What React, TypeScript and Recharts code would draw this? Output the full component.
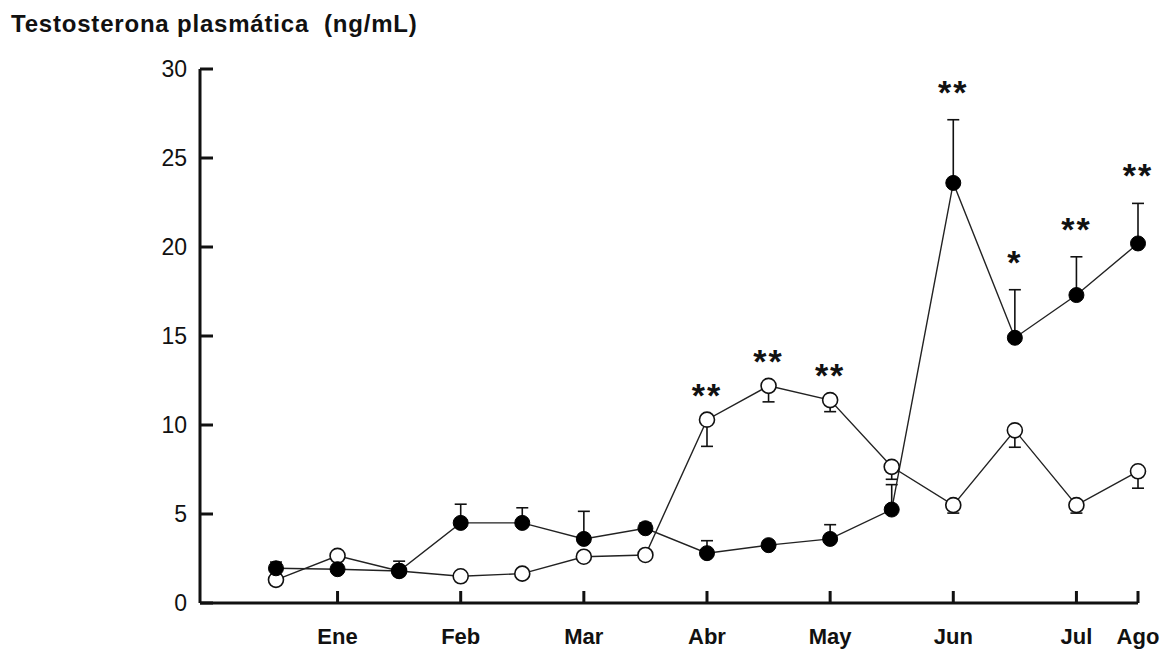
import React from 'react';
import { ComposedChart, Line, Scatter, XAxis, YAxis, ErrorBar } from 'recharts';

// muestreos quincenales (índice de muestreo)
const samplePoints = [0, 1, 2, 3, 4, 5, 6, 7, 8, 9, 10, 11, 12, 13, 14];
const monthLabels = ['Ene', 'Feb', 'Mar', 'Abr', 'May', 'Jun', 'Jul', 'Ago'];
const monthTicks = [1, 3, 5, 7, 9, 11, 13, 14];
const yTicks = [0, 5, 10, 15, 20, 25, 30];

// círculos negros
const filledMean = [1.95, 1.9, 1.8, 4.5, 4.5, 3.6, 4.2, 2.8, 3.25, 3.6, 5.25, 23.6, 14.9, 17.3, 20.2];
const filledSE = [0.35, 0, 0.55, 1.05, 0.85, 1.55, 0.3, 0.7, 0, 0.8, 1.4, 3.55, 2.7, 2.15, 2.25];
const filledSig = ['', '', '', '', '', '', '', '', '', '', '', '**', '*', '**', '**'];

// círculos blancos
const openMean = [1.3, 2.65, 1.8, 1.5, 1.65, 2.6, 2.7, 10.3, 12.2, 11.4, 7.65, 5.5, 9.7, 5.5, 7.4];
const openSE = [0, 0, 0, 0, 0, 0, 0, 1.5, 0.9, 0.65, 0.7, 0.45, 0.95, 0.45, 0.95];
const openSig = ['', '', '', '', '', '', '', '**', '**', '**', '', '', '', '', ''];

const data = samplePoints.map((x, i) => ({
    x,
    filled: filledMean[i],
    filledErr: [0, filledSE[i]],
    open: openMean[i],
    openErr: [openSE[i], 0],
}));

const filledStars = samplePoints
    .filter((_, i) => filledSig[i])
    .map((x) => ({ x, top: filledMean[x] + filledSE[x], sig: filledSig[x] }));
const openStars = samplePoints
    .filter((_, i) => openSig[i])
    .map((x) => ({ x, top: openMean[x], sig: openSig[x] }));

const FONT = '"Liberation Sans", Arial, Helvetica, sans-serif';
const INK = '#111';

const YTick = ({ x, y, payload }: any) => (
    <g>
        <line x1={x + 13} x2={x + 26} y1={y} y2={y} stroke={INK} strokeWidth={3} />
        <text x={x} y={y} dy={8} textAnchor="end" fontSize={23} fill={INK} fontFamily={FONT}>
            {payload.value}
        </text>
    </g>
);

const XTick = ({ x, y, payload }: any) => {
    const i = monthTicks.indexOf(payload.value);
    return (
        <g>
            <line x1={x} x2={x} y1={y - 24} y2={y - 36} stroke={INK} strokeWidth={3} />
            <text x={x} y={y} dy={17} textAnchor="middle" fontSize={22} fontWeight="bold" fill={INK} fontFamily={FONT}>
                {monthLabels[i]}
            </text>
        </g>
    );
};

const starShape = (lift: number) => (props: any) => (
    <text
        x={props.cx}
        y={props.cy - lift}
        textAnchor="middle"
        fontSize={34}
        fontWeight="bold"
        letterSpacing={2}
        fill={INK}
        fontFamily={FONT}
    >
        {props.payload.sig}
    </text>
);

export default function App() {
    return (
        <div style={{ position: 'absolute', left: 0, top: 0, width: 1172, height: 653, background: '#fff' }}>
            <svg width={1172} height={60} style={{ position: 'absolute', left: 0, top: 0 }}>
                <text x={11} y={32} fontSize={24} fontWeight="bold" fill={INK} fontFamily={FONT} letterSpacing={0.8}>
                    Testosterona plasmática{'\u00a0\u00a0'}(ng/mL)
                </text>
            </svg>
            <ComposedChart
                width={1172}
                height={653}
                data={data}
                margin={{ top: 69, right: 34, bottom: 10, left: 140 }}
            >
                <XAxis
                    dataKey="x"
                    type="number"
                    domain={[-1.234, 14]}
                    ticks={monthTicks}
                    interval={0}
                    height={40}
                    tickSize={0}
                    tickMargin={24}
                    tickLine={false}
                    axisLine={{ stroke: INK, strokeWidth: 3 }}
                    tick={<XTick />}
                />
                <YAxis
                    type="number"
                    domain={[0, 30]}
                    ticks={yTicks}
                    interval={0}
                    width={60}
                    tickSize={0}
                    tickMargin={13}
                    tickLine={false}
                    axisLine={{ stroke: INK, strokeWidth: 3 }}
                    tick={<YTick />}
                />
                {/* barras de error primero, así los círculos quedan encima */}
                <Line dataKey="open" stroke="none" dot={false} activeDot={false} isAnimationActive={false}>
                    <ErrorBar dataKey="openErr" direction="y" width={6} stroke={INK} strokeWidth={1.6} />
                </Line>
                <Line dataKey="filled" stroke="none" dot={false} activeDot={false} isAnimationActive={false}>
                    <ErrorBar dataKey="filledErr" direction="y" width={6} stroke={INK} strokeWidth={1.6} />
                </Line>
                <Line
                    dataKey="open"
                    stroke="#222"
                    strokeWidth={1.4}
                    dot={{ r: 7.5, fill: '#fff', stroke: INK, strokeWidth: 1.6 }}
                    activeDot={false}
                    isAnimationActive={false}
                />
                <Line
                    dataKey="filled"
                    stroke="#222"
                    strokeWidth={1.4}
                    dot={{ r: 7.5, fill: '#000', stroke: '#000', strokeWidth: 1 }}
                    activeDot={false}
                    isAnimationActive={false}
                />
                <Scatter data={filledStars} dataKey="top" shape={starShape(16)} isAnimationActive={false} />
                <Scatter data={openStars} dataKey="top" shape={starShape(13)} isAnimationActive={false} />
            </ComposedChart>
        </div>
    );
}
